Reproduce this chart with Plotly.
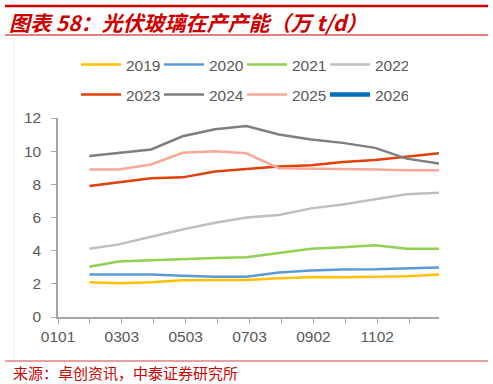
import plotly.graph_objects as go
import pandas as pd

# ---- data ----
dates = ["2023-01-31", "2023-02-28", "2023-03-31", "2023-04-30", "2023-05-31", "2023-06-30",
         "2023-07-31", "2023-08-31", "2023-09-30", "2023-10-31", "2023-11-30", "2023-12-31"]
y2019 = [2.09, 2.03, 2.09, 2.22, 2.23, 2.23, 2.33, 2.39, 2.40, 2.44, 2.45, 2.57]
y2020 = [2.57, 2.57, 2.56, 2.49, 2.43, 2.43, 2.68, 2.80, 2.87, 2.88, 2.93, 2.99]
y2021 = [3.03, 3.34, 3.42, 3.50, 3.56, 3.60, 3.86, 4.12, 4.20, 4.32, 4.12, 4.12]
y2022 = [4.12, 4.38, 4.84, 5.28, 5.68, 6.00, 6.15, 6.55, 6.78, 7.10, 7.40, 7.50]
y2023 = [7.90, 8.12, 8.36, 8.42, 8.78, 8.93, 9.08, 9.15, 9.35, 9.47, 9.68, 9.88]
y2024 = [9.71, 9.90, 10.10, 10.90, 11.32, 11.52, 11.00, 10.70, 10.50, 10.20, 9.55, 9.25]
y2025 = [8.90, 8.90, 9.20, 9.90, 10.00, 9.87, 8.97, 8.96, 8.95, 8.90, 8.85, 8.85]
y2026 = [None] * 12

series = [("2019", y2019, "#FFC000", 2.5, "legend"),
          ("2020", y2020, "#5B9BD5", 2.5, "legend"),
          ("2021", y2021, "#92D050", 2.5, "legend"),
          ("2022", y2022, "#BFBFBF", 2.5, "legend"),
          ("2023", y2023, "#E0400A", 2.5, "legend2"),
          ("2024", y2024, "#7F7F7F", 2.5, "legend2"),
          ("2025", y2025, "#F8A899", 2.5, "legend2"),
          ("2026", y2026, "#0070C0", 4.5, "legend2")]

tick_offsets = [0, 30.5, 61, 91.5, 122, 152.5, 183, 213.5, 244, 274.5, 305, 335.5]
tick_labels = ["0101", "", "0303", "", "0503", "", "0703", "", "0902", "", "1102", ""]
start = pd.Timestamp("2023-01-01")
tickvals = [start + pd.Timedelta(days=d) for d in tick_offsets]

fig = go.Figure()
for name, ys, color, w, lg in series:
    fig.add_trace(go.Scatter(x=pd.to_datetime(dates), y=ys, mode="lines", name=name,
                             line=dict(color=color, width=w), legend=lg))

W, H = 493, 384
L, R, T, B = 58, 439, 118, 317

def px(x):
    return (x - L) / (R - L)

def py(y):
    return (B - y) / (B - T)

gray = "#595959"
leg_common = dict(orientation="h", xanchor="left", yanchor="middle",
                  entrywidth=28, entrywidthmode="pixels", itemwidth=40,
                  font=dict(size=15.5, color=gray), bgcolor="rgba(0,0,0,0)")
fig.update_layout(
    width=W, height=H,
    margin=dict(l=L, r=W - R, t=T, b=H - B),
    paper_bgcolor="white", plot_bgcolor="white",
    font=dict(family="Liberation Sans, Arial, sans-serif", color=gray, size=15),
    showlegend=True,
    legend=dict(x=px(76), y=py(65), **leg_common),
    legend2=dict(x=px(76), y=py(95), **leg_common),
    xaxis=dict(type="date", range=[start, pd.Timestamp("2023-12-31")],
               tickvals=tickvals, ticktext=tick_labels, ticks="outside", ticklen=5,
               tickcolor="#A6A6A6", showline=True, linecolor="#A6A6A6", linewidth=1.5,
               showgrid=False, zeroline=False, tickfont=dict(size=15.5, color=gray)),
    yaxis=dict(range=[0, 12], dtick=2, tick0=0, ticks="outside", ticklen=5,
               tickcolor="#A6A6A6", showline=True, linecolor="#A6A6A6", linewidth=1.5,
               showgrid=False, zeroline=False, ticklabelstandoff=7,
               tickfont=dict(size=15.5, color=gray)),
)

red = "#CC0000"
shapes = [
    dict(type="line", xref="paper", yref="paper", x0=px(5), x1=px(488), y0=py(6), y1=py(6),
         line=dict(color=red, width=2.5)),
    dict(type="line", xref="paper", yref="paper", x0=px(5), x1=px(488), y0=py(35), y1=py(35),
         line=dict(color=red, width=1)),
    dict(type="line", xref="paper", yref="paper", x0=px(5), x1=px(488), y0=py(361), y1=py(361),
         line=dict(color="#D04040", width=1.2)),
    dict(type="line", xref="paper", yref="paper", x0=px(14), x1=px(14), y0=py(38), y1=py(358),
         line=dict(color="#EEEEEE", width=1)),
]
fig.update_layout(shapes=shapes)

fig.add_annotation(xref="paper", yref="paper", x=px(7), y=py(22), xanchor="left", yanchor="middle",
                   text="<b><i>图表 58：光伏玻璃在产产能（万 t/d）</i></b>", showarrow=False,
                   font=dict(family="Noto Sans CJK SC, Liberation Sans, sans-serif", size=21, color=red))
fig.add_annotation(xref="paper", yref="paper", x=px(11), y=py(372), xanchor="left", yanchor="middle",
                   text="来源：卓创资讯，中泰证券研究所", showarrow=False,
                   font=dict(family="Noto Sans CJK SC, sans-serif", size=15, color=red))

fig.write_html("out.html")
